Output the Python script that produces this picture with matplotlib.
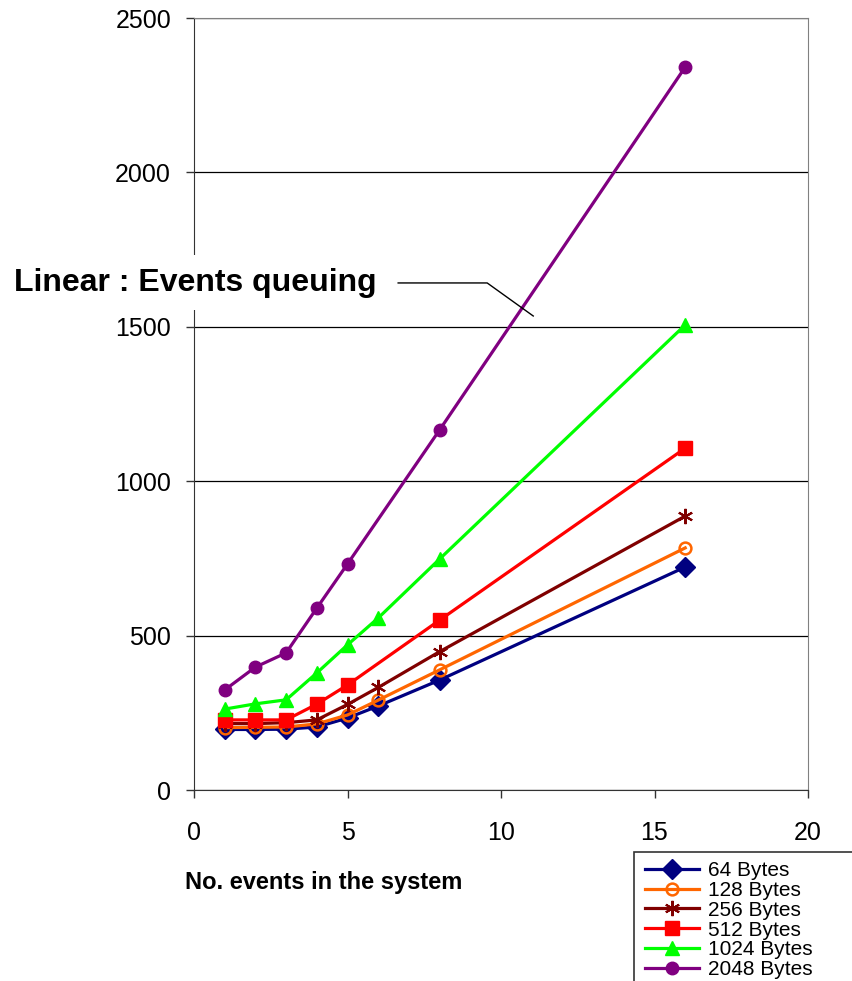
import matplotlib
matplotlib.use('Agg')
import matplotlib.pyplot as plt
from matplotlib.patches import Rectangle

plt.rcParams['font.family'] = ['Liberation Sans', 'DejaVu Sans']

# number of events in the system
events = [1, 2, 3, 4, 5, 6, 8, 16]
events_no6 = [1, 2, 3, 4, 5, 8, 16]

# response time per message size
t_64 = [196, 196, 197, 204, 233, 272, 356, 722]
t_128 = [202, 203, 204, 214, 243, 291, 389, 784]
t_256 = [215, 215, 218, 227, 277, 332, 448, 887]
t_512 = [227, 227, 227, 278, 340, 550, 1107]
t_1024 = [262, 279, 292, 379, 470, 557, 748, 1506]
t_2048 = [324, 398, 444, 589, 732, 1166, 2341]

series = [
    ('64 Bytes', events, t_64, '#000080', 'D', dict(markersize=10)),
    ('128 Bytes', events, t_128, '#FF6600', 'o', dict(markersize=8.5, markerfacecolor='none', markeredgewidth=1.8)),
    ('256 Bytes', events, t_256, '#800000', (6, 2, 0), dict(markersize=11, markeredgewidth=1.5)),
    ('512 Bytes', events_no6, t_512, '#FF0000', 's', dict(markersize=9.5)),
    ('1024 Bytes', events, t_1024, '#00FF00', '^', dict(markersize=9.5)),
    ('2048 Bytes', events_no6, t_2048, '#800080', 'o', dict(markersize=9)),
]

fig = plt.figure(figsize=(8.52, 9.81), dpi=100)
ax = fig.add_axes([194 / 852, 1 - 790 / 981, 614 / 852, 772 / 981])

for label, xs, ys, color, marker, kw in series:
    ax.plot(xs, ys, color=color, lw=2.3, marker=marker, label=label,
            markeredgecolor=color, clip_on=False, **kw)

ax.set_xlim(0, 20)
ax.set_ylim(0, 2500)
ax.set_xticks([0, 5, 10, 15, 20])
ax.set_yticks([0, 500, 1000, 1500, 2000, 2500])
ax.yaxis.grid(True, color='black', lw=0.9)
ax.set_axisbelow(True)
ax.tick_params(axis='both', labelsize=18, direction='out', length=6, width=1, color='#333333')
ax.tick_params(axis='x', pad=16)
ax.tick_params(axis='y', pad=10.5)
for side in ('top', 'right'):
    ax.spines[side].set_color('#808080')
for side in ('left', 'bottom'):
    ax.spines[side].set_color('#333333')

# callout text with its leader line
ax.text(-5.85, 1642, 'Linear : Events queuing', fontsize=23, fontweight='bold',
        va='center', ha='left', zorder=5, clip_on=False,
        bbox=dict(facecolor='white', edgecolor='none', pad=9))
ax.plot([6.65, 9.55, 11.05], [1642, 1642, 1535], color='black', lw=1, clip_on=False, zorder=6)

fig.text(185 / 852, 1 - 883 / 981, 'No. events in the system', fontsize=17,
         fontweight='bold', ha='left', va='center')

# legend box runs past the right and bottom edges of the figure
fig.patches.append(Rectangle((634 / 852, 1 - 1000 / 981), 260 / 852, 148 / 981,
                             transform=fig.transFigure, facecolor='white',
                             edgecolor='#333333', lw=1.2))
leg = fig.legend(loc='upper left', bbox_to_anchor=(645 / 852, 1 - 861 / 981),
                 borderaxespad=0, fontsize=15, frameon=False,
                 handlelength=2.6, handletextpad=0.4,
                 borderpad=0.0, labelspacing=0.04)

fig.savefig('out.png', dpi=100)
